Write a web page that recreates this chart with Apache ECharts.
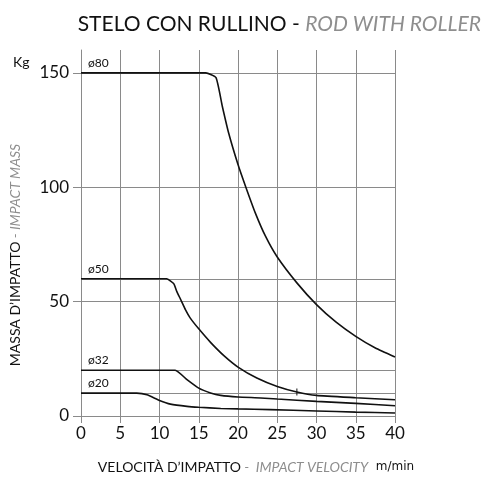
<!DOCTYPE html>
<html>
<head>
<meta charset="utf-8">
<script src="https://cdn.jsdelivr.net/npm/echarts@6/dist/echarts.min.js"></script>
<style>html,body{margin:0;padding:0;background:#fff}#c{width:489px;height:477px}</style>
</head>
<body>
<div id="c"></div>
<script>
// Velocity ticks (m/min) and mass ticks (Kg)
const xTicks = [0, 5, 10, 15, 20, 25, 30, 35, 40];
const yTicks = [0, 50, 100, 150];
const yExtraLines = [10, 20, 60];

const names = ['ø80', 'ø50', 'ø32', 'ø20'];

const x80 = [0, 15.9, 17.2, 18.0, 18.8, 20, 21, 22.2, 23.5, 25, 27.5, 30, 32.5, 35, 37.5, 40];
const y80 = [150, 150, 147.9, 135.4, 123.8, 109.9, 100, 88.8, 78.6, 69.5, 58.2, 48.7, 41, 34.8, 29.7, 25.8];

const x50 = [0, 10.9, 11.8, 12.2, 12.7, 13.3, 13.9, 15, 16.5, 18.2, 20, 22.4, 25, 27.5, 30, 35, 40];
const y50 = [60, 60, 57.9, 54.5, 50.9, 46.5, 42.9, 38.1, 32.2, 26.4, 21.4, 16.6, 12.9, 10.5, 9.0, 8.0, 7.1];

const x32 = [0, 12.0, 13.5, 15, 16.5, 17.8, 20, 22.9, 25, 30, 35, 40];
const y32 = [20, 20, 15.9, 12.2, 10.1, 9.0, 8.3, 7.9, 7.4, 6.4, 5.5, 4.5];

const x20 = [0, 7.1, 8.4, 10, 11.4, 13.5, 15, 17.8, 20, 24.1, 30, 35, 40];
const y20 = [10, 10, 9.3, 6.8, 5.2, 4.2, 3.8, 3.3, 3.1, 2.8, 2.2, 1.7, 1.3];

// small tick mark on the ø50 curve
const tick50 = [27.5, 10.5];

const xs = [x80, x50, x32, x20];
const ys = [y80, y50, y32, y20];

const FONT = 'Lato';
const GRID = '#8a8a8a';
const GREYTXT = '#8e8e8e';

const chart = echarts.init(document.getElementById('c'));

const series = names.map((n, i) => {
  const data = xs[i].map((x, k) => [x, ys[i][k]]);
  const mpData = [{
    coord: [0, ys[i][0]],
    symbol: 'rect', symbolSize: 0,
    label: { show: true, formatter: n, position: 'right', distance: 0, offset: [7, -10],
             color: '#111', fontSize: 12, fontFamily: FONT }
  }];
  if (i === 1) {
    mpData.push({ coord: tick50, symbol: 'rect', symbolSize: [1, 7], itemStyle: { color: '#111' }, label: { show: false } });
  }
  const s = {
    type: 'line', name: n, data: data,
    showSymbol: false, smooth: 0.15,
    lineStyle: { color: '#111', width: 1.6 },
    itemStyle: { color: '#111' },
    silent: true, z: 5,
    markPoint: { silent: true, data: mpData }
  };
  if (i === 0) {
    s.markLine = {
      silent: true, symbol: 'none', z: 1,
      lineStyle: { color: GRID, width: 1, type: 'solid' },
      label: { show: false },
      data: yExtraLines.map(v => ({ yAxis: v }))
    };
  }
  return s;
});

chart.setOption({
  animation: false,
  backgroundColor: '#fff',
  title: [{
    text: '{a|STELO CON RULLINO - }{b|ROD WITH ROLLER}',
    right: 3, top: 9,
    textStyle: {
      fontWeight: 'normal',
      rich: {
        a: { fontFamily: FONT, fontSize: 21, color: '#111', fontWeight: 'normal' },
        b: { fontFamily: FONT, fontSize: 21, color: GREYTXT, fontStyle: 'italic', fontWeight: 'normal' }
      }
    }
  }, {
    text: 'Kg', left: 8, top: 50,
    textStyle: { fontFamily: FONT, fontSize: 14, fontWeight: 'normal', color: '#111' }
  }],
  graphic: [{
    type: 'text', x: 15, y: 255, rotation: Math.PI / 2,
    style: {
      text: '{a|MASSA D\u2019IMPATTO}{b| - IMPACT MASS}',
      align: 'center', verticalAlign: 'middle',
      rich: {
        a: { fontFamily: FONT, fontSize: 14, fill: '#111' },
        b: { fontFamily: FONT, fontSize: 14, fill: GREYTXT, fontStyle: 'italic' }
      }
    }
  }, {
    type: 'text', x: 256, y: 467,
    style: {
      text: '{a|VELOCIT\u00C0 D\u2019IMPATTO}{b| -  IMPACT VELOCITY}{c|  m/min}',
      align: 'center', verticalAlign: 'middle',
      rich: {
        a: { fontFamily: FONT, fontSize: 14, fill: '#111' },
        b: { fontFamily: FONT, fontSize: 14, fill: GREYTXT, fontStyle: 'italic' },
        c: { fontFamily: 'DejaVu Sans', fontSize: 12, fill: '#111' }
      }
    }
  }],
  grid: { left: 81, right: 94, top: 50, bottom: 61, show: false },
  xAxis: {
    type: 'value', min: 0, max: 40, interval: 5,
    axisLine: { show: true, lineStyle: { color: GRID, width: 1 } },
    axisTick: { show: true, length: 7, lineStyle: { color: GRID } },
    axisLabel: { color: '#111', fontSize: 17, fontFamily: FONT, margin: 9,
                 customValues: xTicks },
    splitLine: { show: true, lineStyle: { color: GRID, width: 1 } }
  },
  yAxis: {
    type: 'value', min: 0, max: 160, interval: 50,
    axisLine: { show: true, lineStyle: { color: GRID, width: 1 } },
    axisTick: { show: true, length: 8, lineStyle: { color: GRID }, customValues: yTicks },
    axisLabel: { color: '#111', fontSize: 17, fontFamily: FONT, margin: 12,
                 customValues: yTicks },
    splitLine: { show: true, lineStyle: { color: GRID, width: 1 } }
  },
  series: series
});
</script>
</body>
</html>
